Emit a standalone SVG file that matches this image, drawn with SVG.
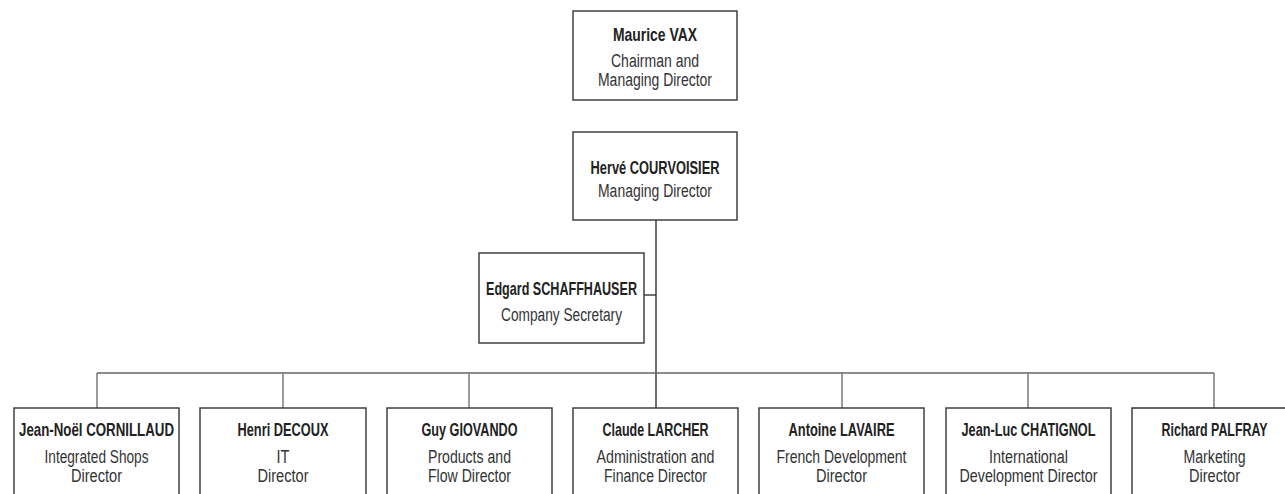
<svg xmlns="http://www.w3.org/2000/svg" width="1285" height="494" viewBox="0 0 1285 494">
<style>
.box{fill:#fff;stroke:#333;stroke-width:1.4}
.name{font-family:"Liberation Sans",Arial,sans-serif;font-weight:bold;font-size:18.5px;fill:#222;text-anchor:middle}
.role{font-family:"Liberation Sans",Arial,sans-serif;font-size:18px;fill:#333;text-anchor:middle}
.main{stroke:#222;stroke-width:1.3;fill:none}
.br{stroke:#666;stroke-width:1.3;fill:none}
</style>
<rect width="1285" height="494" fill="#fff"/>
<g id="connectors">
<line class="main" x1="656" y1="220" x2="656" y2="408"/>
<line class="main" x1="644" y1="295" x2="656" y2="295"/>
<line class="br" x1="97" y1="373" x2="1214" y2="373"/>
<line class="br" x1="97" y1="373" x2="97" y2="408"/>
<line class="br" x1="283" y1="373" x2="283" y2="408"/>
<line class="br" x1="469" y1="373" x2="469" y2="408"/>
<line class="br" x1="842" y1="373" x2="842" y2="408"/>
<line class="br" x1="1028" y1="373" x2="1028" y2="408"/>
<line class="br" x1="1214" y1="373" x2="1214" y2="408"/>
</g>
<g id="vax">
<rect class="box" x="573" y="11" width="164" height="89"/>
<text class="name" x="655" y="41" textLength="84" lengthAdjust="spacingAndGlyphs">Maurice VAX</text>
<text class="role" x="655" y="67" textLength="88" lengthAdjust="spacingAndGlyphs">Chairman and</text>
<text class="role" x="655" y="86" textLength="114" lengthAdjust="spacingAndGlyphs">Managing Director</text>
</g>
<g id="courvoisier">
<rect class="box" x="573" y="132" width="164" height="88"/>
<text class="name" x="655" y="173.5" textLength="129" lengthAdjust="spacingAndGlyphs">Hervé COURVOISIER</text>
<text class="role" x="655" y="197" textLength="114" lengthAdjust="spacingAndGlyphs">Managing Director</text>
</g>
<g id="schaffhauser">
<rect class="box" x="479" y="253" width="165" height="90"/>
<text class="name" x="561.5" y="295" textLength="151" lengthAdjust="spacingAndGlyphs">Edgard SCHAFFHAUSER</text>
<text class="role" x="561.5" y="320.5" textLength="121" lengthAdjust="spacingAndGlyphs">Company Secretary</text>
</g>
<g id="cornillaud">
<rect class="box" x="14" y="408" width="165" height="100"/>
<text class="name" x="96.5" y="436" textLength="155" lengthAdjust="spacingAndGlyphs">Jean-Noël CORNILLAUD</text>
<text class="role" x="96.5" y="463" textLength="104" lengthAdjust="spacingAndGlyphs">Integrated Shops</text>
<text class="role" x="96.5" y="482" textLength="51" lengthAdjust="spacingAndGlyphs">Director</text>
</g>
<g id="decoux">
<rect class="box" x="200" y="408" width="166" height="100"/>
<text class="name" x="283" y="436" textLength="91" lengthAdjust="spacingAndGlyphs">Henri DECOUX</text>
<text class="role" x="283" y="463" textLength="13" lengthAdjust="spacingAndGlyphs">IT</text>
<text class="role" x="283" y="482" textLength="51" lengthAdjust="spacingAndGlyphs">Director</text>
</g>
<g id="giovando">
<rect class="box" x="387" y="408" width="165" height="100"/>
<text class="name" x="469.5" y="436" textLength="96" lengthAdjust="spacingAndGlyphs">Guy GIOVANDO</text>
<text class="role" x="469.5" y="463" textLength="83" lengthAdjust="spacingAndGlyphs">Products and</text>
<text class="role" x="469.5" y="482" textLength="83" lengthAdjust="spacingAndGlyphs">Flow Director</text>
</g>
<g id="larcher">
<rect class="box" x="573" y="408" width="165" height="100"/>
<text class="name" x="655.5" y="436" textLength="106" lengthAdjust="spacingAndGlyphs">Claude LARCHER</text>
<text class="role" x="655.5" y="463" textLength="118" lengthAdjust="spacingAndGlyphs">Administration and</text>
<text class="role" x="655.5" y="482" textLength="103" lengthAdjust="spacingAndGlyphs">Finance Director</text>
</g>
<g id="lavaire">
<rect class="box" x="759" y="408" width="165" height="100"/>
<text class="name" x="841.5" y="436" textLength="106" lengthAdjust="spacingAndGlyphs">Antoine LAVAIRE</text>
<text class="role" x="841.5" y="463" textLength="130" lengthAdjust="spacingAndGlyphs">French Development</text>
<text class="role" x="841.5" y="482" textLength="51" lengthAdjust="spacingAndGlyphs">Director</text>
</g>
<g id="chatignol">
<rect class="box" x="946" y="408" width="165" height="100"/>
<text class="name" x="1028.5" y="436" textLength="134" lengthAdjust="spacingAndGlyphs">Jean-Luc CHATIGNOL</text>
<text class="role" x="1028.5" y="463" textLength="79" lengthAdjust="spacingAndGlyphs">International</text>
<text class="role" x="1028.5" y="482" textLength="138" lengthAdjust="spacingAndGlyphs">Development Director</text>
</g>
<g id="palfray">
<path class="box" d="M1285,408 H1132 V494"/>
<text class="name" x="1214.5" y="436" textLength="106" lengthAdjust="spacingAndGlyphs">Richard PALFRAY</text>
<text class="role" x="1214.5" y="463" textLength="62" lengthAdjust="spacingAndGlyphs">Marketing</text>
<text class="role" x="1214.5" y="482" textLength="51" lengthAdjust="spacingAndGlyphs">Director</text>
</g>
</svg>
